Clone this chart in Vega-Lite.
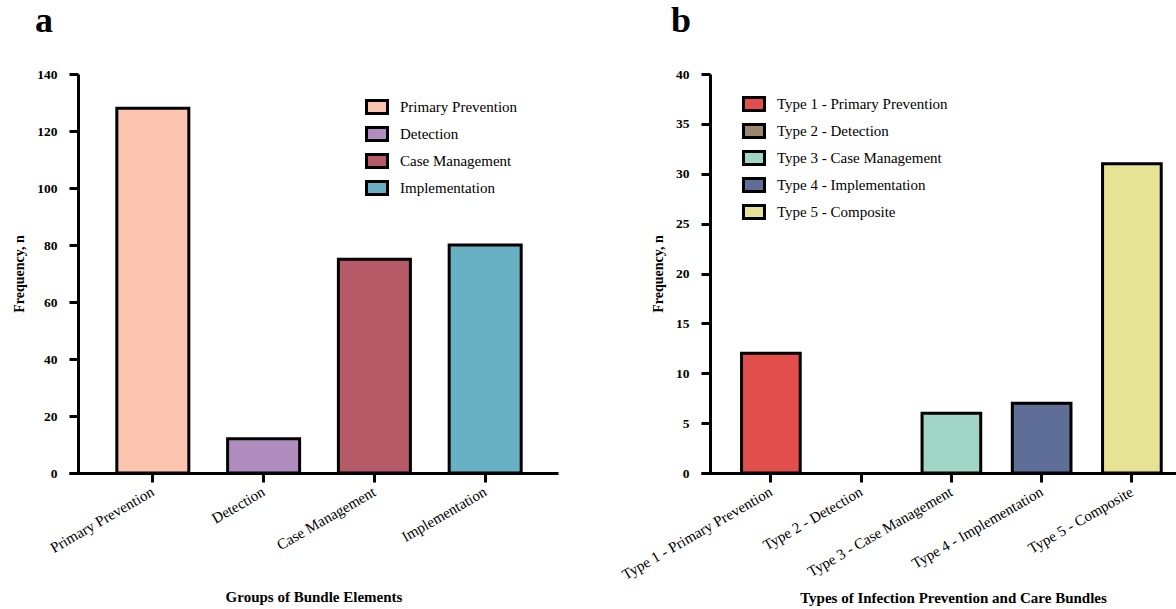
{
  "$schema": "https://vega.github.io/schema/vega-lite/v6.json",
  "background": "white",
  "padding": {"left": 12, "top": 3, "right": 0, "bottom": 5},
  "config": {
    "font": "Liberation Serif",
    "view": {"stroke": null},
    "axis": {
      "domainColor": "black",
      "domainWidth": 3,
      "tickColor": "black",
      "tickWidth": 3,
      "tickSize": 9,
      "grid": false,
      "labelColor": "black",
      "titleColor": "black",
      "labelFont": "Liberation Serif",
      "titleFont": "Liberation Serif"
    },
    "legend": {
      "labelFont": "Liberation Serif",
      "labelFontSize": 15,
      "labelColor": "black",
      "labelLimit": 400,
      "symbolStrokeColor": "black",
      "symbolStrokeWidth": 3,
      "symbolOpacity": 1,
      "symbolType": "M-1,-0.62H1V0.62H-1Z",
      "symbolSize": 441,
      "rowPadding": 1,
      "labelOffset": 11
    },
    "title": {"font": "Liberation Serif", "fontSize": 36, "fontWeight": "bold", "color": "black", "anchor": "start", "frame": "group"}
  },
  "bounds": "flush",
  "spacing": 143,
  "resolve": {"scale": {"color": "independent"}, "legend": {"color": "independent"}},
  "hconcat": [
    {
      "width": 489,
      "height": 399,
      "title": {"text": "a", "dx": -34, "offset": 27},
      "data": {"values": [
        {"group": "Primary Prevention", "n": 128},
        {"group": "Detection", "n": 12},
        {"group": "Case Management", "n": 75},
        {"group": "Implementation", "n": 80}
      ]},
      "mark": {"type": "bar", "stroke": "black", "strokeWidth": 3, "opacity": 1},
      "encoding": {
        "x": {
          "field": "group", "type": "nominal", "sort": null,
          "scale": {"paddingInner": 0.35, "paddingOuter": 0.382, "align": 0.565},
          "axis": {"title": "Groups of Bundle Elements", "titleFontSize": 15, "titleFontWeight": "bold", "titlePadding": 34,
                   "labelAngle": -30, "labelAlign": "right", "labelBaseline": "middle", "labelFontSize": 15, "labelPadding": 8}
        },
        "y": {
          "field": "n", "type": "quantitative",
          "scale": {"domain": [0, 140], "nice": false},
          "axis": {"title": "Frequency, n", "titleFontSize": 14, "titleFontWeight": "bold", "titlePadding": 10,
                   "values": [0, 20, 40, 60, 80, 100, 120, 140], "offset": -9,
                   "labelFontSize": 13.5, "labelFontWeight": "bold", "labelPadding": 12}
        },
        "color": {
          "field": "group", "type": "nominal",
          "scale": {"domain": ["Primary Prevention", "Detection", "Case Management", "Implementation"],
                    "range": ["#FCC5B0", "#B18CBE", "#B55A66", "#68B1C2"]},
          "legend": {"title": null, "orient": "none", "legendX": 296, "legendY": 21}
        }
      }
    },
    {
      "width": 476,
      "height": 399,
      "title": {"text": "b", "dx": -30, "offset": 27},
      "data": {"values": [
        {"type": "Type 1 - Primary Prevention", "n": 12},
        {"type": "Type 2 - Detection", "n": 0},
        {"type": "Type 3 - Case Management", "n": 6},
        {"type": "Type 4 - Implementation", "n": 7},
        {"type": "Type 5 - Composite", "n": 31}
      ]},
      "mark": {"type": "bar", "stroke": "black", "strokeWidth": 3, "opacity": 1},
      "encoding": {
        "x": {
          "field": "type", "type": "nominal", "sort": null,
          "scale": {"paddingInner": 0.35, "paddingOuter": 0.312, "align": 0.72},
          "axis": {"title": "Types of Infection Prevention and Care Bundles", "titleFontSize": 15, "titleFontWeight": "bold", "titlePadding": 8, "titleX": 252,
                   "labelAngle": -30, "labelAlign": "right", "labelBaseline": "middle", "labelFontSize": 15, "labelPadding": 8}
        },
        "y": {
          "field": "n", "type": "quantitative",
          "scale": {"domain": [0, 40], "nice": false},
          "axis": {"title": "Frequency, n", "titleFontSize": 14, "titleFontWeight": "bold", "titlePadding": 10,
                   "values": [0, 5, 10, 15, 20, 25, 30, 35, 40], "offset": -9,
                   "labelFontSize": 13.5, "labelFontWeight": "bold", "labelPadding": 12}
        },
        "strokeOpacity": {"condition": {"test": "datum.n > 0", "value": 1}, "value": 0},
        "color": {
          "field": "type", "type": "nominal",
          "scale": {"domain": ["Type 1 - Primary Prevention", "Type 2 - Detection", "Type 3 - Case Management", "Type 4 - Implementation", "Type 5 - Composite"],
                    "range": ["#E24E4B", "#9B8670", "#A1D6C6", "#5F6E96", "#E6E395"]},
          "legend": {"title": null, "orient": "none", "legendX": 41, "legendY": 18}
        }
      }
    }
  ]
}
